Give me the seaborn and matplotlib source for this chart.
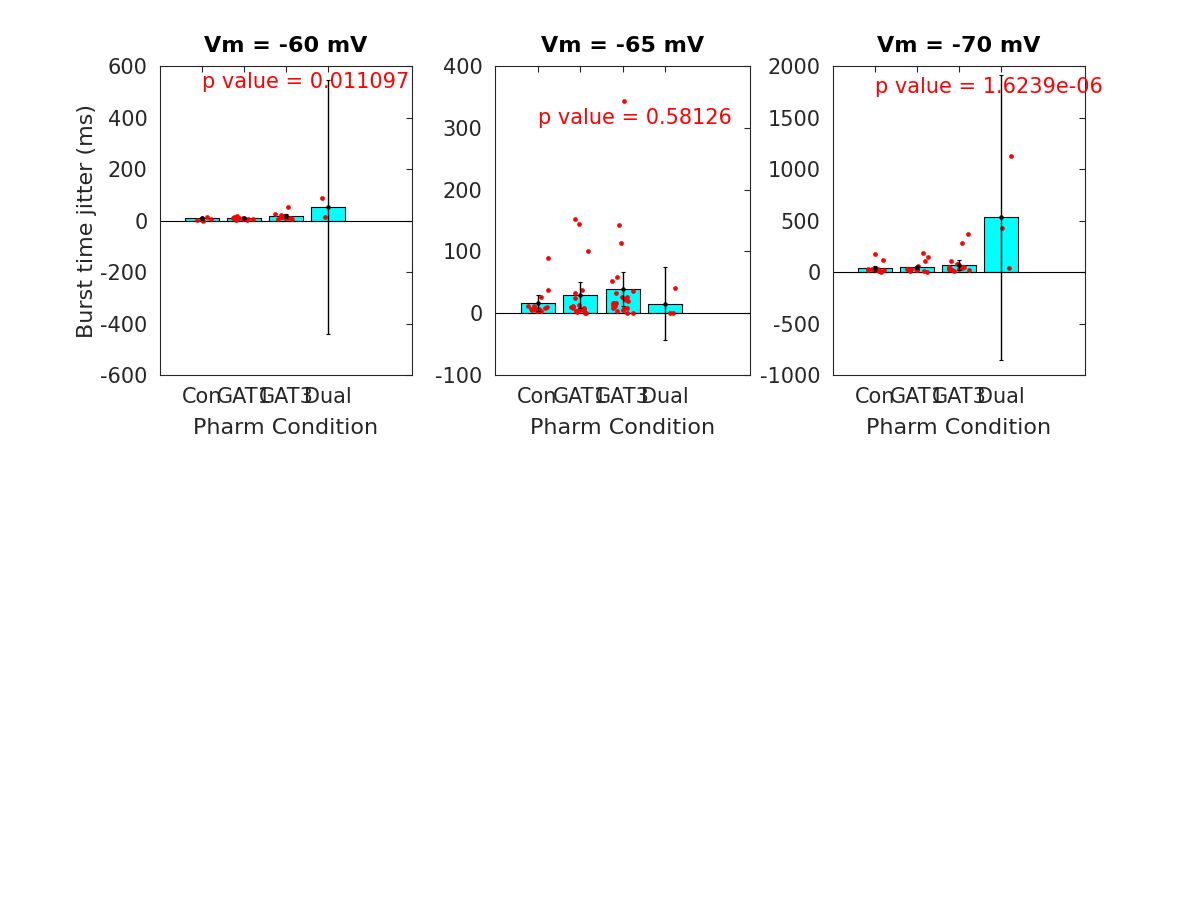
import numpy as np
import pandas as pd
import matplotlib
matplotlib.use("Agg")
import matplotlib.pyplot as plt
import seaborn as sns

categories = ["Con", "GAT1", "GAT3", "Dual"]
titles = ["Vm = -60 mV", "Vm = -65 mV", "Vm = -70 mV"]
p_texts = ["p value = 0.011097", "p value = 0.58126", "p value = 1.6239e-06"]
p_text_y = [538, 316, 1795]

# Vm = -60 mV
con_60 = [-3, 15, 3, 10, 6]
gat1_60 = [6, 3, 18, 14, 4, 10, 9, 3, 9, 5]
gat3_60 = [52, 26, 14, 23, 18, 13, 8, 10, 6, 8, 6, 13]
dual_60 = [89, 12]
means_60 = [8, 8, 17, 52]
errs_60 = [6, 4, 8, 493]

# Vm = -65 mV
con_65 = [37, 90, 27, 10, 8, 6, 11, 4, 6, 11, 6, 8, 3, 5]
gat1_65 = [153, 145, 101, 38, 32, 24, 13, 9, 12, 8, 10, 5, 3, 1, 1, 8, 6, 2, 3, 4]
gat3_65 = [344, 143, 113, 52, 58, 36, 33, 27, 22, 19, 26, 23, 16, 13, 17, 11, 8,
           12, 9, 16, 0, 0, 5, 8, 3]
dual_65 = [41, 0, 0]
means_65 = [16, 29, 39, 15]
errs_65 = [13, 21, 28, 59]

# Vm = -70 mV
con_70 = [175, 113, 0, 13, 19, 26, 29, 19, 26, 23, 6]
gat1_70 = [181, 146, 107, 61, 29, 19, 0, 13, 19, 29, 26, 13, 26]
gat3_70 = [372, 282, 110, 78, 29, 19, 45, 36, 26, 13, 52, 19, 78, 26, 52, 36]
dual_70 = [1129, 424, 36]
means_70 = [36, 45, 65, 530]
errs_70 = [25, 16, 48, 1380]

ylims = [(-600, 600), (-100, 400), (-1000, 2000)]
ysteps = [200, 100, 500]

panels = [
    ([con_60, gat1_60, gat3_60, dual_60], means_60, errs_60),
    ([con_65, gat1_65, gat3_65, dual_65], means_65, errs_65),
    ([con_70, gat1_70, gat3_70, dual_70], means_70, errs_70),
]

sns.set_style("white")
plt.rcParams["font.family"] = ["DejaVu Sans"]
plt.rcParams["axes.unicode_minus"] = False

fig = plt.figure(figsize=(12, 9), dpi=100)
positions = [
    [160 / 1200, 1 - 375 / 900, 252 / 1200, 309 / 900],
    [495 / 1200, 1 - 375 / 900, 255 / 1200, 309 / 900],
    [833 / 1200, 1 - 375 / 900, 252 / 1200, 309 / 900],
]
tick_col = "#262626"
np.random.seed(3)

for i, (groups, means, errs) in enumerate(panels):
    ax = fig.add_axes(positions[i])
    sns.barplot(x=categories, y=means, order=categories, color="cyan",
                saturation=1, edgecolor="black", linewidth=0.8, width=0.8,
                errorbar=None, ax=ax, zorder=2)
    df = pd.DataFrame({
        "cond": sum([[c] * len(g) for c, g in zip(categories, groups)], []),
        "val": sum([list(g) for g in groups], []),
    })
    sns.stripplot(data=df, x="cond", y="val", order=categories, color="red",
                  size=3.4, jitter=0.27, linewidth=0, ax=ax, zorder=3)
    ax.axhline(0, color="black", lw=0.8, zorder=2.5)
    ax.errorbar(np.arange(len(categories)), means, yerr=errs, fmt="o",
                color="black", ms=2.2, lw=1, capsize=1.5, capthick=0.8, zorder=5)
    ax.set_xlim(-1, 5)
    lo, hi = ylims[i]
    ax.set_ylim(lo, hi)
    ax.set_yticks(np.arange(lo, hi + 1, ysteps[i]))
    ax.set_xticks(np.arange(len(categories)))
    ax.set_xticklabels(categories)
    ax.set_xlabel("Pharm Condition", fontsize=16, color=tick_col, labelpad=8)
    if i == 0:
        ax.set_ylabel("Burst time jitter (ms)", fontsize=16, color=tick_col,
                      labelpad=2)
    else:
        ax.set_ylabel("")
    ax.set_title(titles[i], fontsize=16, fontweight="bold", color="black", pad=10)
    ax.tick_params(direction="in", length=4, width=0.8, top=True, right=True,
                   labelsize=15, colors=tick_col)
    ax.tick_params(axis="x", pad=8.5)
    ax.tick_params(axis="y", pad=9)
    for s in ax.spines.values():
        s.set_visible(True)
        s.set_color(tick_col)
        s.set_linewidth(0.8)
    ax.text(0, p_text_y[i], p_texts[i], color="red", fontsize=15,
            ha="left", va="center", clip_on=False, zorder=6)

fig.savefig("out.png", dpi=100)
